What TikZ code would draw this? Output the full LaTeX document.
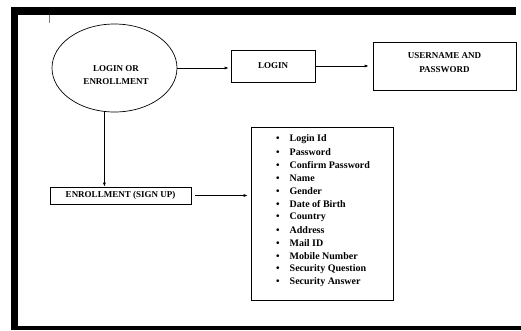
\documentclass[tikz,border=0pt]{standalone}
\usepackage{fontspec}
\setmainfont{Liberation Serif}
\usetikzlibrary{shapes.geometric,arrows.meta}
\newcommand{\labelfont}{\fontsize{9}{13.5}\selectfont\bfseries}
\newcommand{\listfont}{\fontsize{10}{12}\selectfont\bfseries}
\tikzset{
    flowbox/.style={draw, line width=.7pt, inner sep=0pt, font=\labelfont, align=center},
    flowarrow/.style={-{Latex[length=4pt,width=3pt]}, line width=.7pt, shorten >=2pt},
    band/.style={fill=black, draw=none}
}

\begin{document}
\begin{tikzpicture}[x=1pt, y=-1pt]
    \useasboundingbox (0,0) rectangle (521,330);

    % Рамка
    \fill[band] (11,7) rectangle (516,15);
    \fill[band] (11,7) rectangle (18,330);
    \fill[band] (11,326) rectangle (521,330);
    \draw[gray, line width=.6pt] (49,15) -- (49,23);

    % Узлы
    \node[draw, ellipse, line width=.7pt, minimum width=125pt, minimum height=88pt] (oval) at (114.5,68) {};
    \node[font=\labelfont, align=center] (ovaltext) at (116,75) {LOGIN OR\\ENROLLMENT};
    \node[flowbox, minimum width=84pt, minimum height=32pt] (login) at (273,66) {LOGIN};
    \node[flowbox, minimum width=143pt, minimum height=48pt] (userpass) at (444.5,66) {};
    \node[font=\labelfont, align=center] (userpasstext) at (444.5,62.5) {USERNAME AND\\PASSWORD};
    \node[flowbox, minimum width=141pt, minimum height=17pt] (enroll) at (120.5,195.5) {ENROLLMENT (SIGN UP)};
    \node[draw, line width=.7pt, minimum width=142pt, minimum height=173pt, inner sep=0pt] (fields) at (322,213.5) {};

    % Список полей
    \foreach \txt [count=\i] in {Login Id, Password, Confirm Password, Name, Gender,
        Date of Birth, Country, Address, Mail ID, Mobile Number, Security Question, Security Answer}
        \node[font=\listfont, anchor=west, inner sep=0pt] (item\i) at (276,126+13*\i)
            {\textbullet\hspace{10pt}\txt};

    % Стрелки
    \draw[flowarrow] (oval.east) -- (oval.east -| login.west);
    \draw[flowarrow, shorten >=4pt] (login.east) -- (login.east -| userpass.west);
    \draw[flowarrow, shorten >=0pt] (oval.-103.5) -- (oval.-103.5 |- enroll.north);
    \draw[flowarrow, shorten <=4pt, shorten >=3pt] (enroll.east) -- (enroll.east -| fields.west);
\end{tikzpicture}
\end{document}
